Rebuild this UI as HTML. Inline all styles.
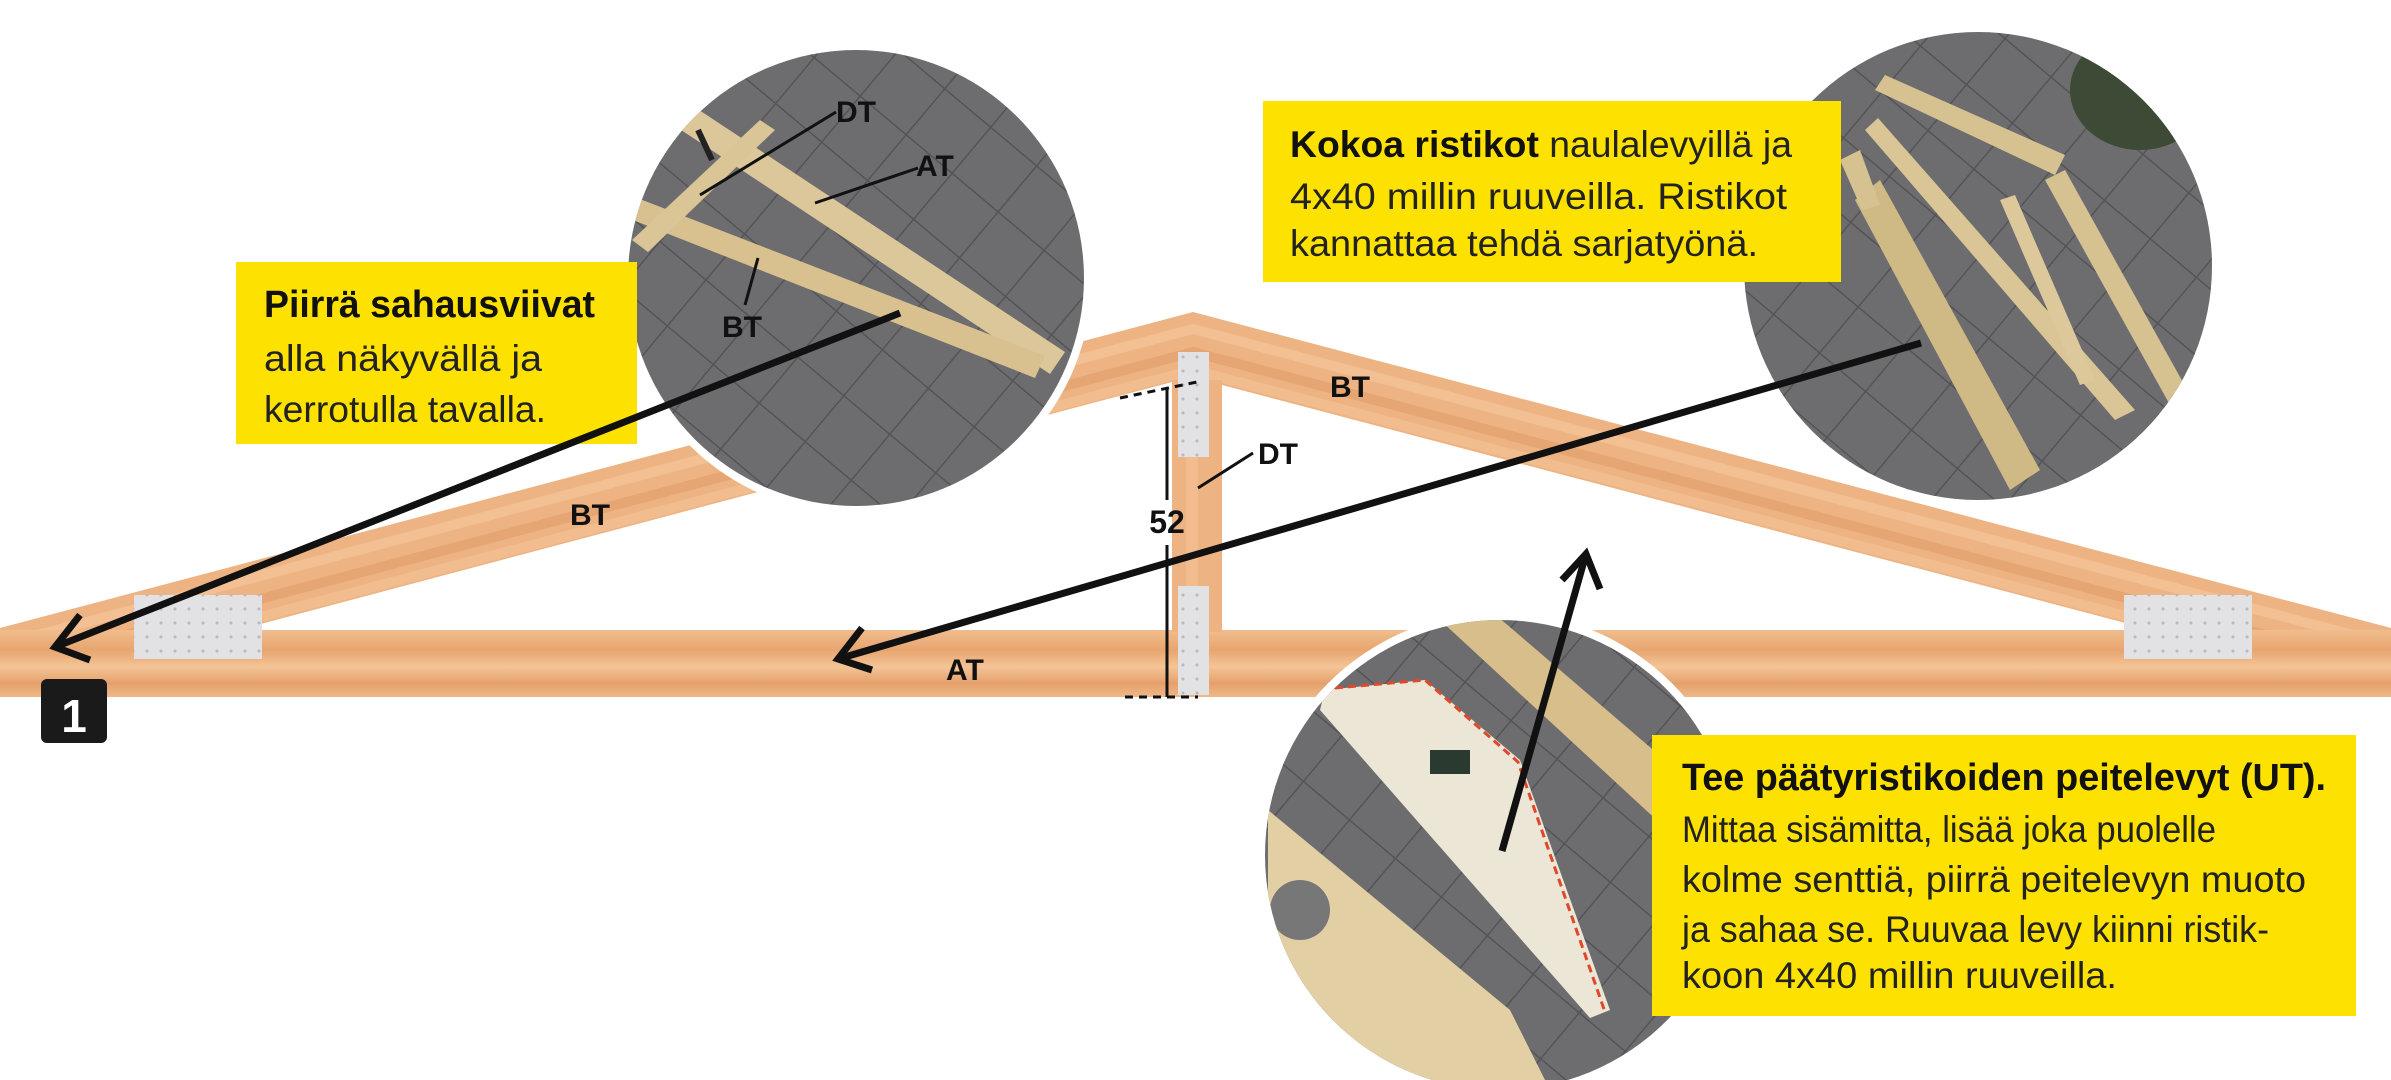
<!DOCTYPE html>
<html><head><meta charset="utf-8"><style>
html,body{margin:0;padding:0;background:#fff;}
svg{display:block;}
text{font-family:"Liberation Sans Narrow","Liberation Sans",sans-serif;}
</style></head><body>
<svg width="2391" height="1080" viewBox="0 0 2391 1080" xmlns="http://www.w3.org/2000/svg">
<defs>
<linearGradient id="wood" x1="0" y1="0" x2="0" y2="1">
<stop offset="0" stop-color="#f1bd8e"/><stop offset="0.3" stop-color="#e7a56f"/><stop offset="0.55" stop-color="#f4c496"/><stop offset="0.8" stop-color="#e4a06b"/><stop offset="1" stop-color="#f0b98a"/>
</linearGradient>
<pattern id="pave" width="60" height="60" patternUnits="userSpaceOnUse" patternTransform="rotate(40)">
<rect width="60" height="60" fill="#6d6d6f"/><path d="M0 0H60M0 0V60" stroke="#545456" stroke-width="3"/>
</pattern>
<pattern id="dots" width="14" height="14" patternUnits="userSpaceOnUse">
<rect width="14" height="14" fill="#e2e2e4"/><circle cx="7" cy="7" r="1.5" fill="#b8b8bc"/>
</pattern>
<clipPath id="c1"><circle cx="856" cy="278" r="228"/></clipPath>
<clipPath id="c2"><circle cx="1978" cy="266" r="234"/></clipPath>
<clipPath id="c3"><circle cx="1500" cy="855" r="235"/></clipPath>
<clipPath id="truss"><path d="M0 628L1193 312L2391 628V697H0Z"/></clipPath>
</defs>

<!-- truss -->
<path d="M0 628L1193 312L2391 628V697H0Z" fill="#eeb383"/>
<g clip-path="url(#truss)" stroke-width="10" fill="none" opacity="0.55">
<path d="M0 645L1193 329L2391 645" stroke="#f6caa0"/>
<path d="M0 668L1193 352L2391 668" stroke="#e19c66"/>
<path d="M0 686L1193 370L2391 686" stroke="#f5c598"/>
</g>
<rect x="0" y="630" width="2391" height="67" fill="url(#wood)"/>
<rect x="1172" y="380" width="50" height="252" fill="#eeb383"/>
<rect x="1186" y="380" width="12" height="252" fill="#f3c193" opacity="0.7"/>
<path d="M238 630L1172 382V630Z" fill="#fff"/>
<path d="M1222 385L2152 630H1222Z" fill="#fff"/>
<rect x="0" y="697" width="2391" height="10" fill="#fff"/>
<!-- plates -->
<rect x="134" y="595" width="128" height="64" fill="url(#dots)"/>
<rect x="2124" y="595" width="128" height="64" fill="url(#dots)"/>
<rect x="1178" y="352" width="31" height="105" fill="url(#dots)"/>
<rect x="1178" y="586" width="31" height="109" fill="url(#dots)"/>

<!-- dimension -->
<line x1="1167" y1="389" x2="1167" y2="500" stroke="#111" stroke-width="3"/>
<line x1="1167" y1="545" x2="1167" y2="697" stroke="#111" stroke-width="3"/>
<line x1="1120" y1="398" x2="1197" y2="382" stroke="#111" stroke-width="3" stroke-dasharray="8,6"/>
<line x1="1125" y1="697" x2="1198" y2="697" stroke="#111" stroke-width="3" stroke-dasharray="8,6"/>
<text x="1167" y="533" font-size="32" font-weight="bold" text-anchor="middle" fill="#111">52</text>
<line x1="1198" y1="488" x2="1253" y2="453" stroke="#111" stroke-width="3"/>
<text x="1258" y="464" font-size="30" font-weight="bold" fill="#111">DT</text>
<text x="570" y="525" font-size="30" font-weight="bold" fill="#111">BT</text>
<text x="946" y="680" font-size="30" font-weight="bold" fill="#111">AT</text>
<text x="1330" y="397" font-size="30" font-weight="bold" fill="#111">BT</text>

<!-- circle 1 -->
<circle cx="856" cy="278" r="236" fill="#fff"/>
<g clip-path="url(#c1)">
<rect x="600" y="40" width="520" height="480" fill="url(#pave)"/>
<path d="M672 124L690 104L1065 352L1050 374Z" fill="#dcc79a"/>
<path d="M620 215L632 196L1045 356L1035 378Z" fill="#d8c08f"/>
<path d="M632 240L648 252L775 130L760 120Z" fill="#d9c595"/>
<path d="M698 130L712 160" stroke="#222" stroke-width="6"/>
</g>
<line x1="700" y1="195" x2="836" y2="112" stroke="#111" stroke-width="3"/>
<text x="836" y="122" font-size="30" font-weight="bold" fill="#111">DT</text>
<line x1="815" y1="203" x2="918" y2="168" stroke="#111" stroke-width="3"/>
<text x="916" y="176" font-size="30" font-weight="bold" fill="#111">AT</text>
<line x1="758" y1="258" x2="745" y2="305" stroke="#111" stroke-width="3"/>
<text x="722" y="337" font-size="30" font-weight="bold" fill="#111">BT</text>

<!-- circle 2 -->
<circle cx="1978" cy="266" r="242" fill="#fff"/>
<g clip-path="url(#c2)">
<rect x="1740" y="30" width="480" height="480" fill="url(#pave)"/>
<ellipse cx="2140" cy="90" rx="70" ry="60" fill="#3d4a35"/>
<path d="M1875 90L1885 75L2065 155L2055 175Z" fill="#d6c291"/>
<path d="M1865 130L1878 118L2135 410L2115 420Z" fill="#d9c595"/>
<path d="M1855 200L1880 180L2040 470L2010 490Z" fill="#cfb985"/>
<path d="M2045 180L2065 170L2190 395L2170 405Z" fill="#d6c291"/>
<path d="M2000 200L2015 195L2095 380L2080 385Z" fill="#dcc89a"/>
<path d="M1840 160L1860 150L1880 205L1862 210Z" fill="#d6c291"/>
</g>

<!-- circle 3 -->
<circle cx="1500" cy="855" r="243" fill="#fff"/>
<g clip-path="url(#c3)">
<rect x="1260" y="610" width="480" height="480" fill="url(#pave)"/>
<path d="M1440 620L1490 610L1700 790L1700 860Z" fill="#d7be8a"/>
<path d="M1268 810L1510 1010L1550 1090H1268Z" fill="#e3cfa4"/>
<path d="M1325 690L1425 680L1520 760L1610 1010L1590 1018L1320 710Z" fill="#ece6d6"/>
<path d="M1335 688L1425 680L1518 762L1605 1012" fill="none" stroke="#e0472b" stroke-width="3" stroke-dasharray="8,5"/>
<rect x="1430" y="750" width="40" height="24" fill="#2a3a30"/>
<circle cx="1300" cy="910" r="30" fill="#777"/>
</g>

<!-- yellow boxes -->
<rect x="236" y="262" width="401" height="182" fill="#fde100"/>
<text x="264" y="317" font-size="38" font-weight="bold" fill="#111" textLength="331" lengthAdjust="spacingAndGlyphs">Piirrä sahausviivat</text>
<text x="264" y="371" font-size="37" fill="#222" textLength="278" lengthAdjust="spacingAndGlyphs">alla näkyvällä ja</text>
<text x="264" y="422" font-size="37" fill="#222" textLength="282" lengthAdjust="spacingAndGlyphs">kerrotulla tavalla.</text>

<rect x="1263" y="101" width="578" height="181" fill="#fde100"/>
<text x="1290" y="157" font-size="37" fill="#222" textLength="502" lengthAdjust="spacingAndGlyphs"><tspan font-weight="bold" fill="#111">Kokoa ristikot</tspan> naulalevyillä ja</text>
<text x="1290" y="209" font-size="37" fill="#222" textLength="497" lengthAdjust="spacingAndGlyphs">4x40 millin ruuveilla. Ristikot</text>
<text x="1290" y="256" font-size="37" fill="#222" textLength="468" lengthAdjust="spacingAndGlyphs">kannattaa tehdä sarjatyönä.</text>

<rect x="1652" y="735" width="704" height="281" fill="#fde100"/>
<text x="1682" y="790" font-size="38" font-weight="bold" fill="#111" textLength="644" lengthAdjust="spacingAndGlyphs">Tee päätyristikoiden peitelevyt (UT).</text>
<text x="1682" y="842" font-size="37" fill="#222" textLength="534" lengthAdjust="spacingAndGlyphs">Mittaa sisämitta, lisää joka puolelle</text>
<text x="1682" y="892" font-size="37" fill="#222" textLength="624" lengthAdjust="spacingAndGlyphs">kolme senttiä, piirrä peitelevyn muoto</text>
<text x="1682" y="942" font-size="37" fill="#222" textLength="587" lengthAdjust="spacingAndGlyphs">ja sahaa se. Ruuvaa levy kiinni ristik-</text>
<text x="1682" y="988" font-size="37" fill="#222" textLength="435" lengthAdjust="spacingAndGlyphs">koon 4x40 millin ruuveilla.</text>

<!-- arrows -->
<g stroke="#111" stroke-width="7" fill="none" stroke-linecap="butt">
<line x1="900" y1="313" x2="55" y2="647"/>
<path d="M80 615L55 647L90 660"/>
<line x1="1921" y1="343" x2="838" y2="659"/>
<path d="M862 628L838 659L872 670"/>
<line x1="1502" y1="851" x2="1586" y2="554"/>
<path d="M1562 580L1586 554L1600 589"/>
</g>

<!-- badge -->
<rect x="41" y="679" width="66" height="64" rx="6" fill="#1a1a1a"/>
<text x="74" y="732" font-size="46" font-weight="bold" fill="#fff" text-anchor="middle">1</text>
</svg>
</body></html>
